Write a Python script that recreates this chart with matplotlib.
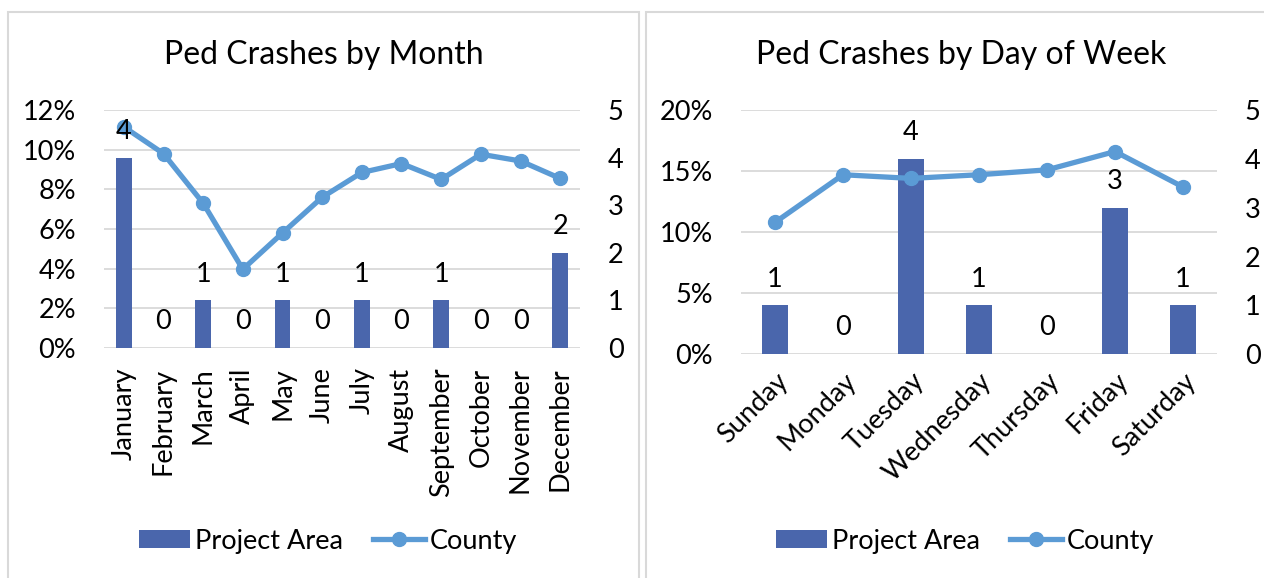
import matplotlib.pyplot as plt
from matplotlib.patches import Rectangle
from matplotlib.transforms import ScaledTranslation
import numpy as np

plt.rcParams['font.family'] = ['Lato', 'DejaVu Sans']

months = ['January', 'February', 'March', 'April', 'May', 'June', 'July',
          'August', 'September', 'October', 'November', 'December']
month_counts = [4, 0, 1, 0, 1, 0, 1, 0, 1, 0, 0, 2]
month_county = [11.15, 9.8, 7.3, 3.97, 5.8, 7.6, 8.85, 9.3, 8.5, 9.77, 9.43, 8.55]

days = ['Sunday', 'Monday', 'Tuesday', 'Wednesday', 'Thursday', 'Friday', 'Saturday']
day_counts = [1, 0, 4, 1, 0, 3, 1]
day_county = [10.8, 14.7, 14.4, 14.7, 15.1, 16.6, 13.7]

barColor = '#4A66AC'
lineColor = '#5B9BD5'
gridColor = '#D9D9D9'
FS = 19.5
W, H = 1264, 578


def px(x, y, w, h):
    # pixel box (top-left origin) -> figure fraction
    return [x / W, 1 - (y + h) / H, w / W, h / H]


fig = plt.figure(figsize=(W / 100, H / 100), dpi=100)

# panel frames
fig.patches.append(Rectangle((8 / W, -0.1), 631 / W, 1.1 - 12 / H, transform=fig.transFigure,
                             fill=False, edgecolor=gridColor, linewidth=1.5))
fig.patches.append(Rectangle((646 / W, -0.1), 630 / W, 1.1 - 12 / H, transform=fig.transFigure,
                             fill=False, edgecolor=gridColor, linewidth=1.5))


def panel(box, cats, counts, county, ymax, ystep, title, title_x, leg_x, rot):
    n = len(cats)
    x = np.arange(n)
    ax = fig.add_axes(box)
    ax2 = ax.twinx()
    ax3 = ax.twinx()

    ax.set_xlim(-0.5, n - 0.5)
    ax.set_ylim(0, ymax)
    ax.set_yticks(np.arange(0, ymax + 0.01, ystep))
    ax.set_yticklabels(['%d%%' % v for v in np.arange(0, ymax + 0.01, ystep)])
    ax.grid(True, axis='y', color=gridColor, linewidth=1.3)
    ax.set_axisbelow(True)
    ax.set_xticks(x)
    if rot == 90:
        ax.set_xticklabels(cats, rotation=90, va='top', ha='center')
        ax.tick_params(axis='x', pad=14)
    else:
        ax.set_xticklabels(cats, rotation=45, ha='right', va='top', rotation_mode='anchor')
        ax.tick_params(axis='x', pad=10)
        shift = ScaledTranslation(-7 / 100, -2 / 100, fig.dpi_scale_trans)
        for lab in ax.get_xticklabels():
            lab.set_transform(lab.get_transform() + shift)
    ax.tick_params(axis='y', pad=20)
    ax.tick_params(length=0, labelsize=FS)

    ax2.set_ylim(0, 5)
    ax2.set_yticks(range(6))
    ax2.tick_params(length=0, labelsize=FS, pad=20)
    bars = ax2.bar(x, counts, width=0.39, color=barColor, label='Project Area')

    ax3.set_ylim(0, ymax)
    ax3.set_yticks([])
    line, = ax3.plot(x, county, color=lineColor, linewidth=3.8, marker='o', markersize=10,
                     label='County')
    for i, c in enumerate(counts):
        ax3.annotate(str(c), xy=(i, c), xycoords=ax2.transData, xytext=(0, 10),
                     textcoords='offset points', ha='center', va='bottom', fontsize=FS)

    for a in (ax, ax2, ax3):
        for s in a.spines.values():
            s.set_visible(False)

    fig.text(title_x / W, 1 - 55 / H, title, ha='center', va='center', fontsize=23)
    fig.legend([bars, line], ['Project Area', 'County'], loc='center',
               bbox_to_anchor=(leg_x / W, 1 - 541 / H), ncol=2, frameon=False,
               fontsize=FS, handlelength=1.9, handleheight=0.65, handletextpad=0.2,
               columnspacing=1.1)


panel(px(104, 110, 476, 238), months, month_counts, month_county, 12, 2,
      'Ped Crashes by Month', 323.5, 328, 90)
panel(px(741, 110, 476, 244.3), days, day_counts, day_county, 20, 5,
      'Ped Crashes by Day of Week', 961, 965, 45)

fig.savefig('out.png', dpi=100)
